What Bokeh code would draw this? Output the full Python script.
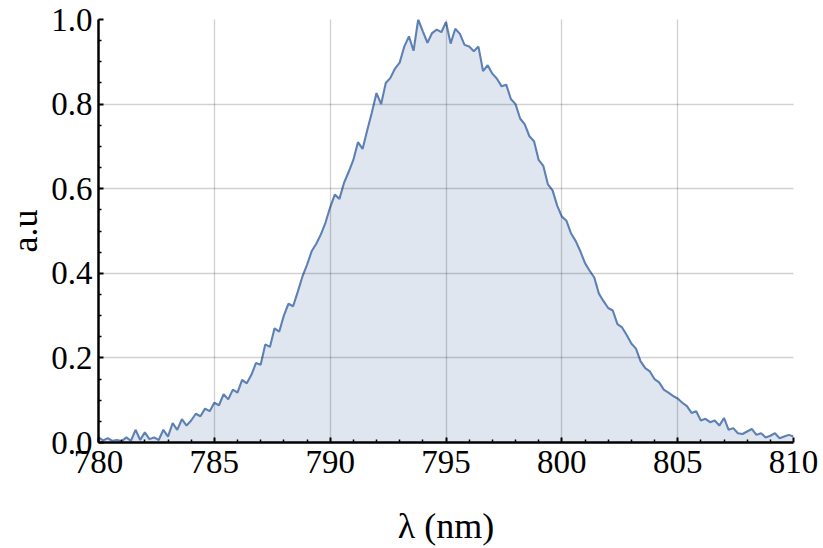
from bokeh.plotting import figure
from bokeh.models import Range1d, FixedTicker, PrintfTickFormatter
from bokeh.embed import file_html
from bokeh.resources import INLINE

# spectrum, one value every 0.2 nm from 780 nm to 810 nm
intensity = [
    0.012, 0.005, 0.010, 0.004, 0.006, 0.003, 0.012, 0.004, 0.030, 0.006,
    0.024, 0.008, 0.012, 0.006, 0.030, 0.014, 0.046, 0.030, 0.055, 0.040,
    0.052, 0.068, 0.062, 0.080, 0.074, 0.094, 0.088, 0.114, 0.102, 0.125,
    0.118, 0.148, 0.140, 0.160, 0.188, 0.184, 0.232, 0.226, 0.270, 0.262,
    0.300, 0.328, 0.322, 0.356, 0.392, 0.420, 0.452, 0.470, 0.492, 0.520,
    0.556, 0.586, 0.576, 0.614, 0.640, 0.668, 0.710, 0.694, 0.738, 0.780,
    0.826, 0.800, 0.850, 0.862, 0.884, 0.898, 0.936, 0.960, 0.926, 1.000,
    0.972, 0.945, 0.968, 0.976, 0.970, 0.994, 0.943, 0.978, 0.966, 0.940,
    0.936, 0.925, 0.936, 0.878, 0.892, 0.872, 0.860, 0.842, 0.846, 0.812,
    0.800, 0.766, 0.752, 0.724, 0.712, 0.668, 0.654, 0.610, 0.596, 0.560,
    0.534, 0.524, 0.494, 0.476, 0.452, 0.424, 0.406, 0.390, 0.352, 0.334,
    0.318, 0.312, 0.280, 0.272, 0.254, 0.234, 0.222, 0.192, 0.176, 0.168,
    0.150, 0.142, 0.125, 0.118, 0.110, 0.104, 0.094, 0.086, 0.070, 0.074,
    0.052, 0.056, 0.048, 0.052, 0.040, 0.058, 0.030, 0.034, 0.022, 0.020,
    0.026, 0.032, 0.018, 0.022, 0.012, 0.016, 0.022, 0.010, 0.014, 0.018,
    0.014,
]
wl_start = 780.0
wl_step = 0.2
wavelength = [round(wl_start + wl_step * i, 1) for i in range(len(intensity))]

x_ticks = [780, 785, 790, 795, 800, 805, 810]
x_minor = [781, 782, 783, 784, 786, 787, 788, 789, 791, 792, 793, 794,
           796, 797, 798, 799, 801, 802, 803, 804, 806, 807, 808, 809]
y_ticks = [0.0, 0.2, 0.4, 0.6, 0.8, 1.0]
y_minor = [0.05, 0.1, 0.15, 0.25, 0.3, 0.35, 0.45, 0.5, 0.55, 0.65, 0.7,
           0.75, 0.85, 0.9, 0.95]
x_grid = [785, 790, 795, 800, 805]
y_grid = [0.2, 0.4, 0.6, 0.8]

x_label = "λ (nm)"
y_label = "a.u"

FONT = "Liberation Serif"
BLUE = "#5E81B5"

p = figure(width=823, height=548, output_backend="svg", toolbar_location=None,
           x_range=Range1d(780, 810), y_range=Range1d(0, 1),
           min_border_left=98, min_border_right=30, min_border_top=19,
           min_border_bottom=104)
p.outline_line_color = None
p.background_fill_color = "white"
p.border_fill_color = "white"

p.varea(x=wavelength, y1=0, y2=intensity, fill_color=BLUE, fill_alpha=0.2)
p.line(wavelength, intensity, line_color=BLUE, line_width=2.1)

p.xaxis.ticker = FixedTicker(ticks=x_ticks, minor_ticks=x_minor)
p.yaxis.ticker = FixedTicker(ticks=y_ticks, minor_ticks=y_minor)
p.yaxis.formatter = PrintfTickFormatter(format="%.1f")
p.xgrid.ticker = FixedTicker(ticks=x_grid)
p.ygrid.ticker = FixedTicker(ticks=y_grid)
for g in (p.xgrid[0], p.ygrid[0]):
    g.grid_line_color = "black"
    g.grid_line_alpha = 0.18
    g.grid_line_width = 1.3
    g.level = "annotation"

for ax in (p.xaxis[0], p.yaxis[0]):
    ax.axis_line_color = "black"
    ax.axis_line_width = 2.5
    ax.major_tick_in = 5
    ax.major_tick_out = 0
    ax.minor_tick_in = 3
    ax.minor_tick_out = 0
    ax.major_tick_line_width = 2
    ax.minor_tick_line_width = 1.5
    ax.major_tick_line_color = "black"
    ax.minor_tick_line_color = "black"
    ax.major_label_text_font = FONT
    ax.major_label_text_font_size = "33px"
    ax.major_label_text_color = "black"
    ax.major_label_standoff = 6
    ax.axis_label_text_font = FONT
    ax.axis_label_text_font_size = "36px"
    ax.axis_label_text_font_style = "normal"
    ax.axis_label_text_color = "black"

p.xaxis.axis_label = x_label
p.yaxis.axis_label = y_label
p.xaxis.major_label_standoff = 8
p.xaxis.axis_label_standoff = 30
p.yaxis.axis_label_standoff = 3

open("out.html", "w").write(file_html(p, INLINE))
